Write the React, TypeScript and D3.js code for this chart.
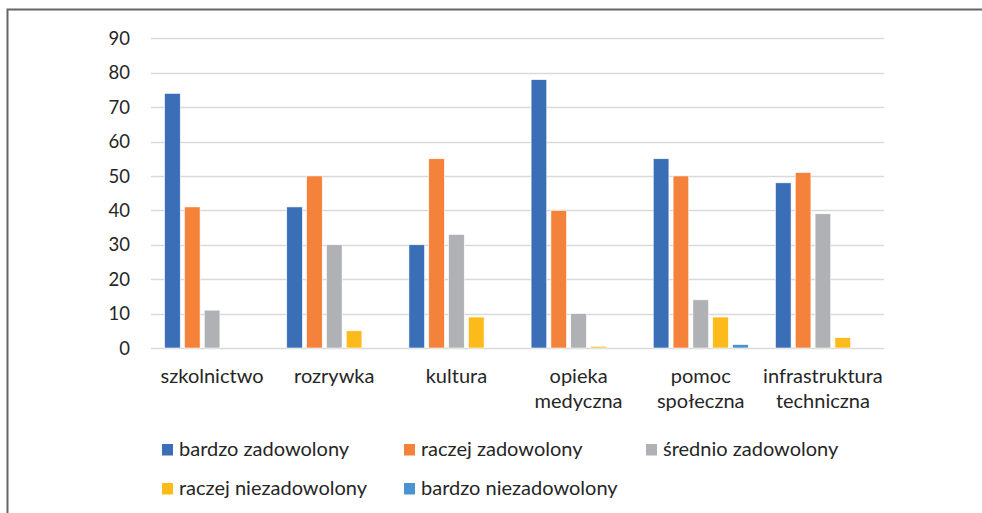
import React, { useRef, useEffect } from "react";
import * as d3 from "d3";

const categories = [
  ["szkolnictwo"],
  ["rozrywka"],
  ["kultura"],
  ["opieka", "medyczna"],
  ["pomoc", "społeczna"],
  ["infrastruktura", "techniczna"],
];
const seriesNames = [
  "bardzo zadowolony",
  "raczej zadowolony",
  "średnio zadowolony",
  "raczej niezadowolony",
  "bardzo niezadowolony",
];
const bardzoZadowolony = [74, 41, 30, 78, 55, 48];
const raczejZadowolony = [41, 50, 55, 40, 50, 51];
const srednioZadowolony = [11, 30, 33, 10, 14, 39];
const raczejNiezadowolony = [0, 5, 9, 0.5, 9, 3];
const bardzoNiezadowolony = [0, 0, 0, 0, 1, 0];
const yTicks = [0, 10, 20, 30, 40, 50, 60, 70, 80, 90];

const colors = ["#3a6fb8", "#f4823a", "#b0b1b4", "#fdbb1b", "#4a93d1"];

const App = () => {
  const svgRef = useRef(null);
  const width = 982;
  const height = 513;

  useEffect(() => {
    const svg = d3.select(svgRef.current);
    svg.selectAll("*").remove();

    const values = [
      bardzoZadowolony,
      raczejZadowolony,
      srednioZadowolony,
      raczejNiezadowolony,
      bardzoNiezadowolony,
    ];
    const font = "Lato, 'Open Sans', sans-serif";

    // frame
    svg.append("path")
      .attr("d", `M7.5,${height} V9.5 H${width}`)
      .attr("fill", "none")
      .attr("stroke", "#666")
      .attr("stroke-width", 2);

    const x0 = d3.scaleBand()
      .domain(d3.range(categories.length).map(String))
      .range([151, 884]);
    const y = d3.scaleLinear().domain([0, 90]).range([348, 38.3]);
    const x1 = d3.scaleBand()
      .domain(d3.range(seriesNames.length).map(String))
      .range([0, 95])
      .paddingInner(0.21)
      .paddingOuter(0);
    const off = (x0.bandwidth() - 95) / 2;

    // gridlines
    svg.append("g")
      .selectAll("line")
      .data(yTicks)
      .join("line")
      .attr("x1", 151)
      .attr("x2", 884)
      .attr("y1", d => Math.round(y(d)) + 0.5)
      .attr("y2", d => Math.round(y(d)) + 0.5)
      .attr("stroke", "#d9d9d9")
      .attr("stroke-width", 1.3);

    // y labels
    svg.append("g")
      .selectAll("text")
      .data(yTicks)
      .join("text")
      .attr("x", 130)
      .attr("y", d => y(d))
      .attr("dy", "0.36em")
      .attr("text-anchor", "end")
      .attr("font-family", font)
      .attr("font-size", 18.5)
      .attr("fill", "#262626")
      .text(d => d);

    // bars
    const groups = svg.append("g")
      .selectAll("g")
      .data(categories)
      .join("g")
      .attr("transform", (d, i) => `translate(${x0(String(i)) + off},0)`);

    groups.selectAll("rect")
      .data((d, i) => values.map((s, k) => ({ k, v: s[i] })))
      .join("rect")
      .attr("x", d => x1(String(d.k)))
      .attr("width", x1.bandwidth())
      .attr("y", d => y(d.v))
      .attr("height", d => y(0) - y(d.v))
      .attr("fill", d => colors[d.k])
      .attr("stroke", "#fff")
      .attr("stroke-width", 0.6);

    // category labels
    groups.append("text")
      .attr("y", 383)
      .attr("text-anchor", "middle")
      .attr("font-family", font)
      .attr("font-size", 20)
      .attr("fill", "#262626")
      .selectAll("tspan")
      .data(d => d)
      .join("tspan")
      .attr("x", x0.bandwidth() / 2 - off)
      .attr("dy", (d, i) => (i === 0 ? 0 : 25))
      .text(d => d);

    // legend
    const legendPos = [[162, 456], [404, 456], [646, 456], [162, 495], [404, 495]];
    const legend = svg.append("g")
      .selectAll("g")
      .data(seriesNames)
      .join("g")
      .attr("transform", (d, i) => `translate(${legendPos[i][0]},${legendPos[i][1]})`);
    legend.append("rect")
      .attr("x", 0)
      .attr("y", -12)
      .attr("width", 11)
      .attr("height", 11.5)
      .attr("fill", (d, i) => colors[i]);
    legend.append("text")
      .attr("x", 17)
      .attr("y", 0)
      .attr("font-family", font)
      .attr("font-size", 20)
      .attr("fill", "#262626")
      .text(d => d);
  });

  return (
    <svg
      ref={svgRef}
      width={width}
      height={height}
      style={{ position: "absolute", left: 0, top: 0, background: "#fff" }}
    ></svg>
  );
};

export default App;
